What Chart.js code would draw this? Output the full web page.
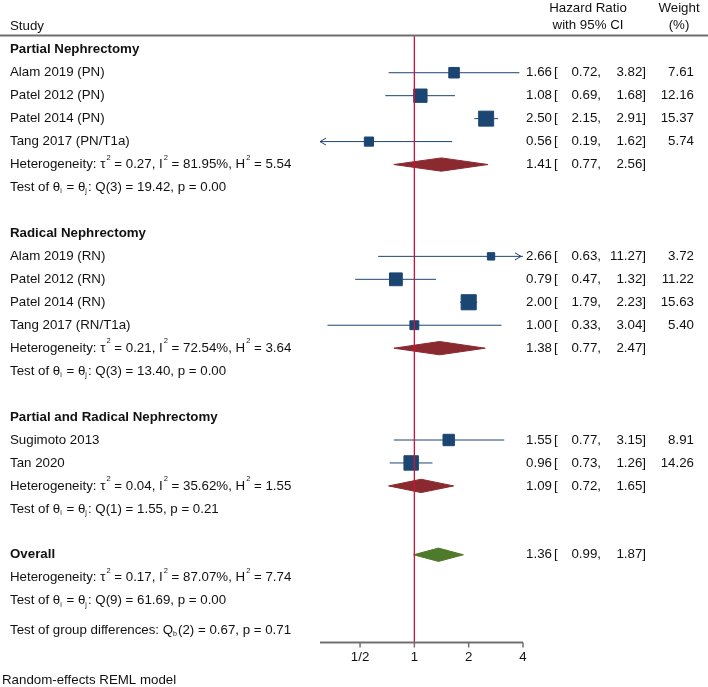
<!DOCTYPE html>
<html>
<head>
<meta charset="utf-8">
<script src="https://cdn.jsdelivr.net/npm/chart.js@4"></script>
<style>
  body { margin: 0; background: #fff; }
</style>
</head>
<body>
<canvas id="forest" width="708" height="687"></canvas>
<script>
// study level data
const studies = ['Alam 2019 (PN)', 'Patel 2012 (PN)', 'Patel 2014 (PN)', 'Tang 2017 (PN/T1a)',
  'Alam 2019 (RN)', 'Patel 2012 (RN)', 'Patel 2014 (RN)', 'Tang 2017 (RN/T1a)',
  'Sugimoto 2013', 'Tan 2020'];
const studyGroup = [0, 0, 0, 0, 1, 1, 1, 1, 2, 2];
const hr = [1.66, 1.08, 2.50, 0.56, 2.66, 0.79, 2.00, 1.00, 1.55, 0.96];
const ciLow = [0.72, 0.69, 2.15, 0.19, 0.63, 0.47, 1.79, 0.33, 0.77, 0.73];
const ciHigh = [3.82, 1.68, 2.91, 1.62, 11.27, 1.32, 2.23, 3.04, 3.15, 1.26];
const weight = [7.61, 12.16, 15.37, 5.74, 3.72, 11.22, 15.63, 5.40, 8.91, 14.26];

// subgroup summaries
const groupNames = ['Partial Nephrectomy', 'Radical Nephrectomy', 'Partial and Radical Nephrectomy'];
const groupHr = [1.41, 1.38, 1.09];
const groupLow = [0.77, 0.77, 0.72];
const groupHigh = [2.56, 2.47, 1.65];
const groupTau2 = [0.27, 0.21, 0.04];
const groupI2 = [81.95, 72.54, 35.62];
const groupH2 = [5.54, 3.64, 1.55];
const groupDf = [3, 3, 1];
const groupQ = [19.42, 13.40, 1.55];
const groupP = [0.00, 0.00, 0.21];

// overall
const overall = { hr: 1.36, low: 0.99, high: 1.87, tau2: 0.17, i2: 87.07, h2: 7.74, df: 9, q: 61.69, p: 0.00 };
const groupDiff = { df: 2, q: 0.67, p: 0.71 };

// x axis ticks
const tickValues = [0.5, 1, 2, 4];
const tickLabels = ['1/2', '1', '2', '4'];

const navy = '#1c4672';
const darkRed = '#8a2a30';
const green = '#4f7a2b';
const nullRed = '#d2103c';
const FONT = '"Liberation Sans", Arial, sans-serif';
const FS = 13.3;

// work out which row each thing sits on
const studyRow = [];
const groupHeaderRow = [], groupHetRow = [], groupTestRow = [];
let r = 0;
for (let g = 0; g < groupNames.length; g++) {
  groupHeaderRow.push(r);
  r++;
  for (let i = 0; i < studies.length; i++) {
    if (studyGroup[i] === g) { studyRow[i] = r; r++; }
  }
  groupHetRow.push(r); r++;
  groupTestRow.push(r); r++;
  r++; // blank row
}
const overallRow = r;
const overallHetRow = r + 1;
const overallTestRow = r + 2;
const diffRow = r + 3.3;

const xMin = 0.305, xMax = 4;
const yMin = -0.6, yMax = 25.8;

// confidence interval segments (null breaks the line)
const ciData = [];
for (let i = 0; i < studies.length; i++) {
  ciData.push({ x: ciLow[i], y: studyRow[i] });
  ciData.push({ x: ciHigh[i], y: studyRow[i] });
  ciData.push({ x: null, y: null });
}

const squares = hr.map(function (v, i) { return { x: v, y: studyRow[i] }; });
const squareRadius = weight.map(function (w) { return 2.7 * Math.sqrt(w); });

function diamond(est, lo, hi, row) {
  const h = 0.29;
  return [
    { x: lo, y: row }, { x: est, y: row - h }, { x: hi, y: row },
    { x: est, y: row + h }, { x: lo, y: row }
  ];
}

const datasets = [{
  label: 'no effect',
  data: [{ x: 1, y: yMin }, { x: 1, y: yMax }],
  showLine: true,
  borderColor: nullRed,
  borderWidth: 1.3,
  pointRadius: 0,
  order: 0
}, {
  label: 'studies',
  data: squares,
  pointStyle: 'rect',
  pointRadius: squareRadius,
  backgroundColor: navy,
  borderColor: navy,
  borderWidth: 1,
  order: 2
}, {
  label: 'ci',
  data: ciData,
  showLine: true,
  spanGaps: false,
  borderColor: navy,
  borderWidth: 1,
  pointRadius: 0,
  order: 3
}];

for (let g = 0; g < groupNames.length; g++) {
  datasets.push({
    label: groupNames[g],
    data: diamond(groupHr[g], groupLow[g], groupHigh[g], groupHetRow[g]),
    showLine: true,
    fill: 'shape',
    backgroundColor: darkRed,
    borderColor: darkRed,
    borderWidth: 1,
    pointRadius: 0,
    tension: 0,
    order: 1
  });
}
datasets.push({
  label: 'Overall',
  data: diamond(overall.hr, overall.low, overall.high, overallRow),
  showLine: true,
  fill: 'shape',
  backgroundColor: green,
  borderColor: green,
  borderWidth: 1,
  pointRadius: 0,
  tension: 0,
  order: 1
});

// text with small super/subscripts: parts are [text, mode]
function drawRich(ctx, parts, x, y, bold) {
  let cx = x;
  parts.forEach(function (p) {
    if (p[1] === 'sup') {
      ctx.font = '7.5px ' + FONT;
      ctx.fillText(p[0], cx + 1, y - 7);
      cx += ctx.measureText(p[0]).width + 1;
    } else if (p[1] === 'sub') {
      ctx.font = '7px ' + FONT;
      ctx.fillText(p[0], cx, y + 4);
      cx += ctx.measureText(p[0]).width + 1;
    } else {
      ctx.font = (bold ? 'bold ' : '') + FS + 'px ' + FONT;
      ctx.fillText(p[0], cx, y);
      cx += ctx.measureText(p[0]).width;
    }
  });
}

function hetParts(t, i, h) {
  return [['Heterogeneity: τ'], ['2', 'sup'], [' = ' + t.toFixed(2) + ', I'], ['2', 'sup'],
    [' = ' + i.toFixed(2) + '%, H'], ['2', 'sup'], [' = ' + h.toFixed(2)]];
}
function testParts(df, q, p) {
  return [['Test of θ'], ['i', 'sub'], [' = θ'], ['j', 'sub'],
    [': Q(' + df + ') = ' + q.toFixed(2) + ', p = ' + p.toFixed(2)]];
}

const textPlugin = {
  id: 'forestText',
  afterDraw: function (chart) {
    const ctx = chart.ctx;
    const xs = chart.scales.x, ys = chart.scales.y;
    const area = chart.chartArea;
    const left = 10;
    ctx.save();
    ctx.fillStyle = '#111';
    ctx.textBaseline = 'middle';

    // header
    ctx.font = FS + 'px ' + FONT;
    ctx.textAlign = 'left';
    ctx.fillText('Study', left, 26);
    ctx.textAlign = 'center';
    ctx.fillText('Hazard Ratio', 588, 8);
    ctx.fillText('with 95% CI', 588, 25);
    ctx.fillText('Weight', 679, 8);
    ctx.fillText('(%)', 679, 25);

    ctx.strokeStyle = '#6e6e6e';
    ctx.lineWidth = 2;
    ctx.beginPath();
    ctx.moveTo(0, 35.5);
    ctx.lineTo(708, 35.5);
    ctx.stroke();

    function estText(est, lo, hi, w, y) {
      ctx.font = FS + 'px ' + FONT;
      ctx.textAlign = 'right';
      ctx.fillText(est.toFixed(2), 552, y);
      ctx.textAlign = 'left';
      ctx.fillText('[', 554, y);
      ctx.textAlign = 'right';
      ctx.fillText(lo.toFixed(2) + ',', 601, y);
      ctx.fillText(hi.toFixed(2) + ']', 646, y);
      if (w !== null) ctx.fillText(w.toFixed(2), 694, y);
    }

    ctx.textAlign = 'left';
    for (let g = 0; g < groupNames.length; g++) {
      ctx.font = 'bold ' + FS + 'px ' + FONT;
      ctx.textAlign = 'left';
      ctx.fillText(groupNames[g], left, ys.getPixelForValue(groupHeaderRow[g]));
      drawRich(ctx, hetParts(groupTau2[g], groupI2[g], groupH2[g]), left, ys.getPixelForValue(groupHetRow[g]));
      drawRich(ctx, testParts(groupDf[g], groupQ[g], groupP[g]), left, ys.getPixelForValue(groupTestRow[g]));
      estText(groupHr[g], groupLow[g], groupHigh[g], null, ys.getPixelForValue(groupHetRow[g]));
    }
    for (let i = 0; i < studies.length; i++) {
      const y = ys.getPixelForValue(studyRow[i]);
      ctx.font = FS + 'px ' + FONT;
      ctx.textAlign = 'left';
      ctx.fillText(studies[i], left, y);
      estText(hr[i], ciLow[i], ciHigh[i], weight[i], y);

      // arrows where the interval runs off the axis
      ctx.strokeStyle = navy;
      ctx.lineWidth = 1;
      if (ciLow[i] < xMin) {
        const ax = area.left;
        ctx.beginPath();
        ctx.moveTo(ax + 6, y - 3.5); ctx.lineTo(ax, y); ctx.lineTo(ax + 6, y + 3.5);
        ctx.stroke();
      }
      if (ciHigh[i] > xMax) {
        const ax = area.right - 2;
        ctx.beginPath();
        ctx.moveTo(ax - 6, y - 3.5); ctx.lineTo(ax, y); ctx.lineTo(ax - 6, y + 3.5);
        ctx.stroke();
      }
    }

    ctx.font = 'bold ' + FS + 'px ' + FONT;
    ctx.textAlign = 'left';
    ctx.fillText('Overall', left, ys.getPixelForValue(overallRow));
    drawRich(ctx, hetParts(overall.tau2, overall.i2, overall.h2), left, ys.getPixelForValue(overallHetRow));
    drawRich(ctx, testParts(overall.df, overall.q, overall.p), left, ys.getPixelForValue(overallTestRow));
    estText(overall.hr, overall.low, overall.high, null, ys.getPixelForValue(overallRow));

    ctx.textAlign = 'left';
    drawRich(ctx, [['Test of group differences: Q'], ['b', 'sub'],
      ['(' + groupDiff.df + ') = ' + groupDiff.q.toFixed(2) + ', p = ' + groupDiff.p.toFixed(2)]],
      left, ys.getPixelForValue(diffRow));

    // x axis
    const axY = area.bottom + 0.5;
    ctx.strokeStyle = '#707070';
    ctx.lineWidth = 2;
    ctx.beginPath();
    ctx.moveTo(area.left, axY);
    ctx.lineTo(area.right, axY);
    ctx.stroke();
    ctx.lineWidth = 1.5;
    ctx.font = FS + 'px ' + FONT;
    ctx.textAlign = 'center';
    for (let t = 0; t < tickValues.length; t++) {
      const tx = xs.getPixelForValue(tickValues[t]);
      ctx.beginPath();
      ctx.moveTo(tx, axY);
      ctx.lineTo(tx, axY + 5);
      ctx.stroke();
      ctx.fillText(tickLabels[t], tx, axY + 15);
    }

    ctx.textAlign = 'left';
    ctx.fillText('Random-effects REML model', 2, 680);
    ctx.restore();
  }
};

new Chart(document.getElementById('forest').getContext('2d'), {
  type: 'scatter',
  data: { datasets: datasets },
  options: {
    responsive: false,
    animation: false,
    layout: { padding: { left: 320, right: 185, top: 36, bottom: 45 } },
    plugins: { legend: { display: false }, tooltip: { enabled: false } },
    scales: {
      x: { type: 'logarithmic', min: xMin, max: xMax, display: false },
      y: { type: 'linear', min: yMin, max: yMax, reverse: true, display: false }
    }
  },
  plugins: [textPlugin]
});
</script>
</body>
</html>
